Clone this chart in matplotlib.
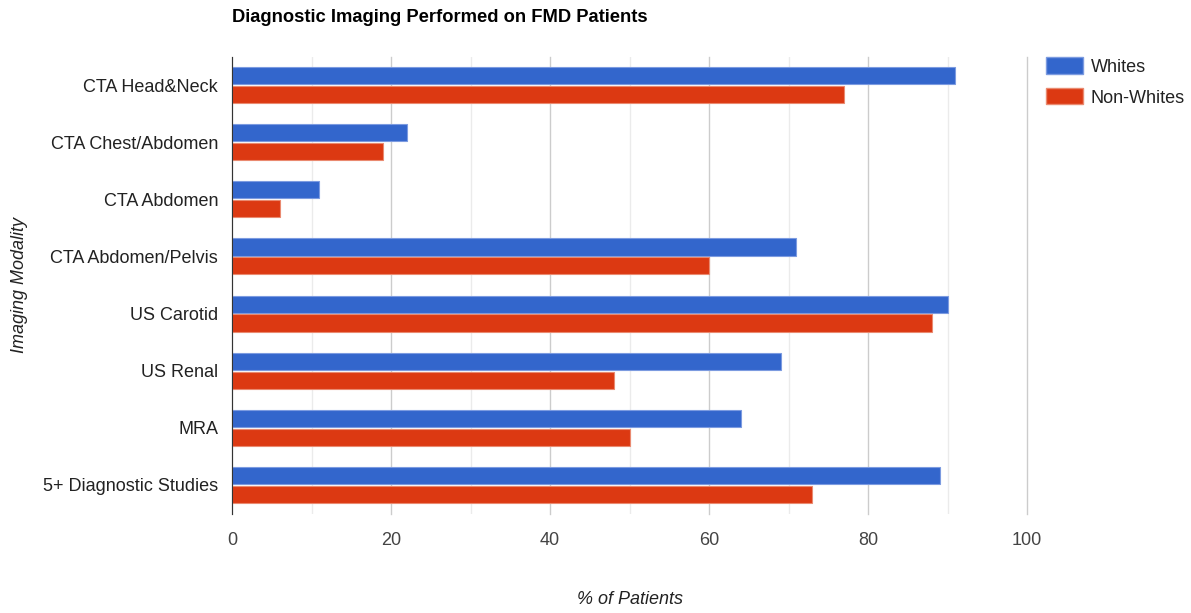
import numpy as np
import matplotlib.pyplot as plt
from matplotlib.patches import Patch

plt.rcParams['font.family'] = ['Liberation Sans', 'DejaVu Sans']

categories = ['CTA Head&Neck', 'CTA Chest/Abdomen', 'CTA Abdomen', 'CTA Abdomen/Pelvis',
              'US Carotid', 'US Renal', 'MRA', '5+ Diagnostic Studies']
whites = [91, 22, 11, 71, 90, 69, 64, 89]
non_whites = [77, 19, 6, 60, 88, 48, 50, 73]

blue = '#3366cc'
red = '#dc3912'

fig = plt.figure(figsize=(11.91, 6.13), dpi=100)
ax = fig.add_axes([232 / 1191, 1 - 513.5 / 613, 795 / 1191, 457 / 613])

y = np.arange(len(categories))
h = 0.3
ax.barh(y - 0.165, whites, height=h, color=blue, edgecolor='#7c9be0', linewidth=0.8, zorder=3)
ax.barh(y + 0.165, non_whites, height=h, color=red, edgecolor='#ea8a70', linewidth=0.8, zorder=3)

ax.set_xlim(0, 100)
ax.set_ylim(len(categories) - 0.5, -0.5)
ax.set_yticks(y)
ax.set_yticklabels(categories, fontsize=13, color='#222222')
ax.set_xticks([0, 20, 40, 60, 80, 100])
ax.set_xticks([10, 30, 50, 70, 90], minor=True)
ax.tick_params(axis='x', which='both', length=0, pad=13, labelsize=13, labelcolor='#444444')
ax.tick_params(axis='y', length=0, pad=10)
ax.grid(axis='x', which='major', color='#cccccc', linewidth=1, zorder=0)
ax.grid(axis='x', which='minor', color='#ebebeb', linewidth=1, zorder=0)
for gl in ax.get_xgridlines():
    gl.set_clip_on(False)
for s in ['top', 'right', 'bottom']:
    ax.spines[s].set_visible(False)
ax.spines['left'].set_color('#333333')
ax.spines['left'].set_zorder(4)

fig.text(232 / 1191, 1 - 18 / 613, 'Diagnostic Imaging Performed on FMD Patients',
         fontsize=13.2, fontweight='bold', ha='left', va='center', color='#000000')
fig.text(630 / 1191, 1 - 600 / 613, '% of Patients', fontsize=13, style='italic',
         ha='center', va='center', color='#222222')
fig.text(20 / 1191, 1 - 285 / 613, 'Imaging Modality', fontsize=13, style='italic',
         rotation=90, ha='center', va='center', color='#222222')

handles = [Patch(facecolor=blue, edgecolor='#7c9be0'), Patch(facecolor=red, edgecolor='#ea8a70')]
fig.legend(handles, ['Whites', 'Non-Whites'], loc='upper left',
           bbox_to_anchor=(1041 / 1191, 1 - 52 / 613), frameon=False, fontsize=13,
           handlelength=2, handleheight=1, handletextpad=0.45, labelspacing=0.7,
           borderaxespad=0, borderpad=0.3, labelcolor='#222222')

fig.savefig('out.png', dpi=100)
